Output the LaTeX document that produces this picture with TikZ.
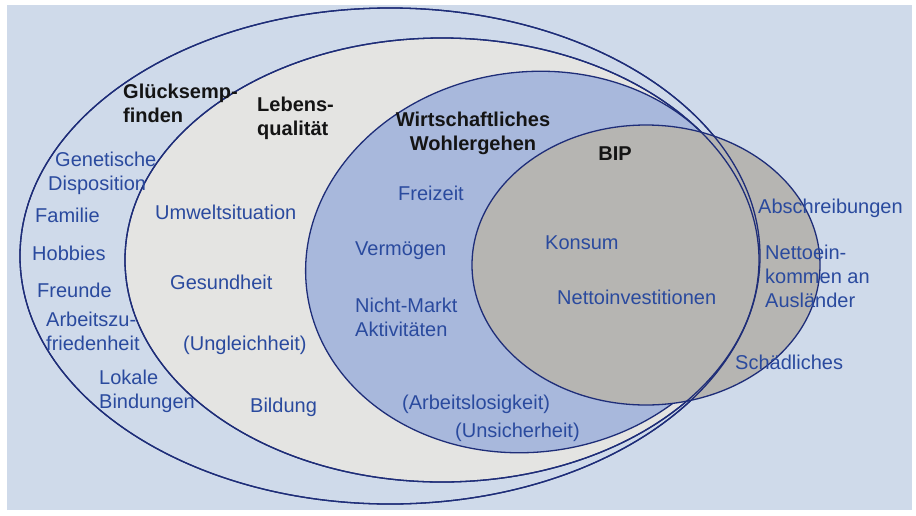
\documentclass[tikz,border=0pt]{standalone}
\usepackage{fontspec}
\setmainfont{Liberation Sans}
\definecolor{panel}{HTML}{CFDAEA}
\definecolor{lebensfill}{HTML}{E4E4E2}
\definecolor{wohlfill}{HTML}{A8B8DC}
\definecolor{bipfill}{HTML}{B6B5B2}
\definecolor{ringcol}{HTML}{1E2D78}
\definecolor{txtblue}{HTML}{2A4A9E}
\begin{document}
\begin{tikzpicture}[x=1pt,y=-1pt,
  ring/.style={draw=ringcol, line width=1.3pt},
  lbl/.style={font=\fontsize{20}{24}\selectfont, text=txtblue, inner sep=0pt, anchor=base west},
  mlbl/.style={font=\fontsize{20}{24}\selectfont, text=txtblue, inner sep=0pt, align=left, anchor=north west, execute at begin node=\strut},
  ttl/.style={font=\fontsize{20}{24}\selectfont\bfseries, text=black!92, inner sep=0pt, align=left, anchor=north west, execute at begin node=\strut}]
\useasboundingbox (0,0) rectangle (916,515);
\fill[white] (0,0) rectangle (916,515);
\fill[panel] (7,5) rectangle (912,510);
% outer: Gluecksempfinden
\draw[ring] (390,256) ellipse [x radius=370, y radius=248];
% Lebensqualitaet
\filldraw[ring, fill=lebensfill] (442,260) ellipse [x radius=317, y radius=222];
% Wirtschaftliches Wohlergehen
\filldraw[ring, fill=wohlfill, shift={(530,262)}, rotate=8] (0,0) ellipse [x radius=225, y radius=190];
% BIP
\filldraw[ring, fill=bipfill] (646,265) ellipse [x radius=174, y radius=140];
% outlines crossing the BIP area
\draw[ring] (390,256) ellipse [x radius=370, y radius=248];
\draw[ring] (442,260) ellipse [x radius=317, y radius=222];

% titles
\node[ttl] (glueck) at (123,84) {Glücksemp-\\finden};
\node[ttl] (lebens) at (257,97) {Lebens-\\qualität};
\node[ttl, align=center, anchor=north] (wohl) at (473,112) {Wirtschaftliches\\Wohlergehen};
\node[font=\fontsize{20}{24}\selectfont\bfseries, text=black!92, inner sep=0pt, anchor=base] (bip) at (615,160) {BIP};

% Gluecksempfinden items
\node[mlbl] (genet) at (48,152) {\hspace*{7pt}Genetische\\Disposition};
\node[lbl] (familie) at (35,222) {Familie};
\node[lbl] (hobbies) at (32,260) {Hobbies};
\node[lbl] (freunde) at (37,297) {Freunde};
\node[mlbl] (arbeit) at (46,312) {Arbeitszu-\\friedenheit};
\node[mlbl] (lokal) at (99,370) {Lokale\\Bindungen};

% Lebensqualitaet items
\node[lbl] (umwelt) at (155,219) {Umweltsituation};
\node[lbl] (gesund) at (170,289) {Gesundheit};
\node[lbl] (ungleich) at (183,350) {(Ungleichheit)};
\node[lbl] (bildung) at (250,412) {Bildung};

% Wohlergehen items
\node[lbl] (freizeit) at (398,200) {Freizeit};
\node[lbl] (vermoegen) at (355,255) {Vermögen};
\node[mlbl] (nichtmarkt) at (355,298) {Nicht-Markt\\Aktivitäten};
\node[lbl] (arbeitslos) at (402,409) {(Arbeitslosigkeit)};
\node[lbl] (unsicher) at (455,437) {(Unsicherheit)};

% BIP items
\node[lbl] (konsum) at (545,249) {Konsum};
\node[lbl] (netto) at (557,304) {Nettoinvestitionen};
\node[lbl] (abschr) at (758,213) {Abschreibungen};
\node[mlbl] (nettoein) at (765,245) {Nettoein-\\kommen an\\Ausländer};
\node[lbl] (schaed) at (735,369) {Schädliches};
\end{tikzpicture}
\end{document}
